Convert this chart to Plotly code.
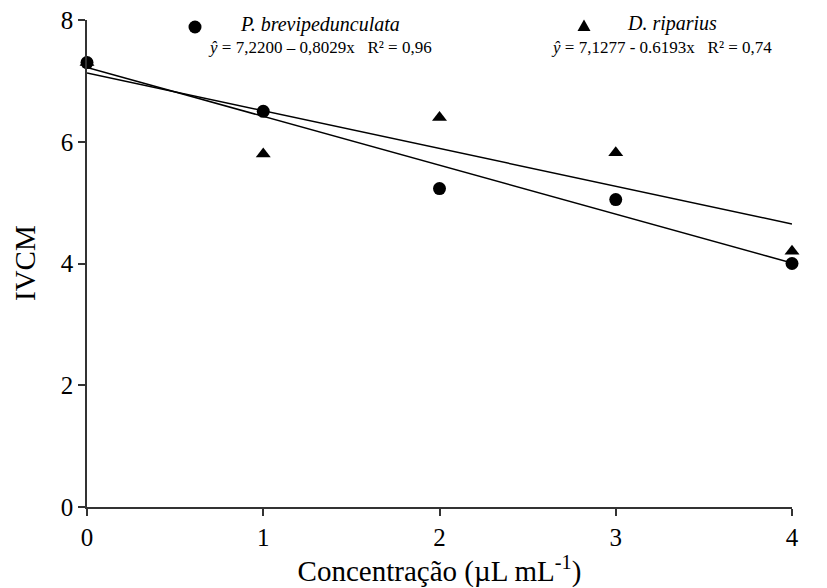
import plotly.graph_objects as go

# ---- data ----
concentration = [0, 1, 2, 3, 4]
p_brevi_values = [7.30, 6.50, 5.23, 5.05, 4.00]
d_ripar_values = [7.30, 5.80, 6.40, 5.82, 4.20]

# fitted regressions printed on the chart
p_brevi_fit = {"intercept": 7.2200, "slope": -0.8029}
d_ripar_fit = {"intercept": 7.1277, "slope": -0.6193}

p_brevi_name = "P. brevipedunculata"
d_ripar_name = "D. riparius"
p_brevi_eq = "<i>ŷ</i> = 7,2200 – 0,8029x   R² = 0,96"
d_ripar_eq = "<i>ŷ</i> = 7,1277 - 0.6193x   R² = 0,74"

x_ticks = [0, 1, 2, 3, 4]
y_ticks = [0, 2, 4, 6, 8]

x_title = "Concentração (µL mL<sup>-1</sup>)"
y_title = "IVCM"

FONT = "Liberation Serif, Times New Roman, serif"

line_x = [concentration[0], concentration[-1]]

def fit_line(fit):
    return [fit["intercept"] + fit["slope"] * x for x in line_x]

fig = go.Figure()

fig.add_trace(go.Scatter(x=line_x, y=fit_line(p_brevi_fit), mode="lines",
                         line=dict(color="black", width=1.5), showlegend=False,
                         hoverinfo="skip"))
fig.add_trace(go.Scatter(x=line_x, y=fit_line(d_ripar_fit), mode="lines",
                         line=dict(color="black", width=1.5), showlegend=False,
                         hoverinfo="skip"))

fig.add_trace(go.Scatter(x=concentration, y=d_ripar_values, mode="markers",
                         name=d_ripar_name, cliponaxis=False,
                         marker=dict(symbol="triangle-up", size=13, color="black"),
                         showlegend=False))
fig.add_trace(go.Scatter(x=concentration, y=p_brevi_values, mode="markers",
                         name=p_brevi_name, cliponaxis=False,
                         marker=dict(symbol="circle", size=13, color="black"),
                         showlegend=False))

L, R, T, B = 79, 43, 12, 89
W, H = 827, 588
pw, ph = W - L - R, H - T - B

def px(xp):
    return (xp - L) / pw

def py(yp):
    return (H - B - yp) / ph

# legend-like markers (decoration)
fig.add_shape(type="circle", xref="paper", yref="paper",
              xsizemode="pixel", ysizemode="pixel",
              xanchor=px(187), yanchor=py(19),
              x0=-6.5, x1=6.5, y0=-6.5, y1=6.5,
              fillcolor="black", line=dict(width=0))
fig.add_shape(type="path", xref="paper", yref="paper",
              xsizemode="pixel", ysizemode="pixel",
              xanchor=px(576), yanchor=py(18),
              path="M -6.5 -5 L 6.5 -5 L 0 6.5 Z",
              fillcolor="black", line=dict(width=0))

ann = [
    dict(text=f"<i>{p_brevi_name}</i>", x=px(230), y=py(16), xanchor="left", size=20, angle=0),
    dict(text=f"<i>{d_ripar_name}</i>", x=px(617), y=py(15), xanchor="left", size=20, angle=0),
    dict(text=p_brevi_eq, x=px(312), y=py(40), xanchor="center", size=17, angle=0),
    dict(text=d_ripar_eq, x=px(653), y=py(40), xanchor="center", size=17, angle=0),
    dict(text=y_title, x=px(17), y=py(255), xanchor="center", size=29, angle=-90),
]
for a in ann:
    fig.add_annotation(text=a["text"], x=a["x"], y=a["y"], xref="paper", yref="paper",
                       xanchor=a["xanchor"], yanchor="middle", showarrow=False,
                       textangle=a["angle"],
                       font=dict(family=FONT, size=a["size"], color="black"))

axis_common = dict(showline=True, linecolor="#333333", linewidth=1.5,
                   ticks="outside", ticklen=7, tickwidth=1.5, tickcolor="#333333",
                   showgrid=False, zeroline=False, ticklabeloverflow="allow",
                   automargin=False,
                   tickfont=dict(family=FONT, size=25, color="black"))

fig.update_xaxes(range=[0, 4], tickvals=x_ticks, ticktext=[str(v) for v in x_ticks],
                 title=dict(text=x_title, standoff=4,
                            font=dict(family=FONT, size=29, color="black")),
                 **axis_common)
fig.update_yaxes(range=[0, 8], tickvals=y_ticks, ticktext=[str(v) for v in y_ticks],
                 **axis_common)

fig.update_layout(width=W, height=H, margin=dict(l=L, r=R, t=T, b=B),
                  plot_bgcolor="white", paper_bgcolor="white", showlegend=False)

fig.write_html("out.html")
